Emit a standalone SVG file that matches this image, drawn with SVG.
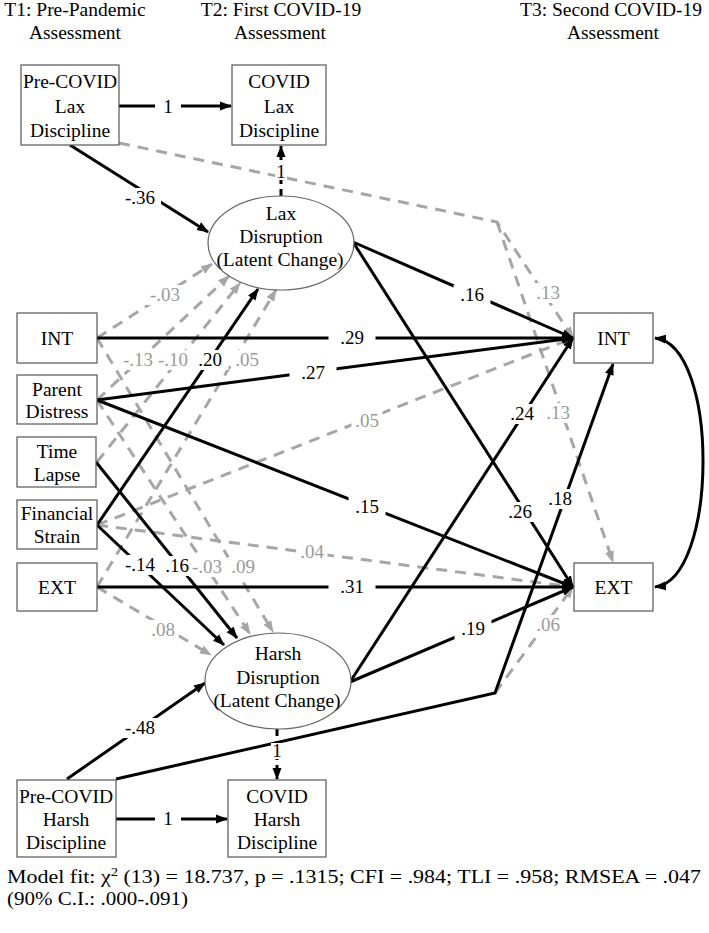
<svg xmlns="http://www.w3.org/2000/svg" width="709" height="933" viewBox="0 0 709 933">
<style>
text{font-family:"Liberation Serif","Times New Roman",serif;fill:#000}
.hd,.nt{font-size:19.5px;text-anchor:middle}
.lb{font-size:19px;text-anchor:middle}
.gl{fill:#9a9a9a}
.box{fill:#fff;stroke:#555;stroke-width:1.2}
.ell{fill:#fff;stroke:#666;stroke-width:1.2}
.b{fill:none;stroke:#000;stroke-width:3}
.bd{fill:none;stroke:#000;stroke-width:3;stroke-dasharray:7 5}
.g{fill:none;stroke:#a6a6a6;stroke-width:3;stroke-dasharray:11 8}
.bg{fill:#fff}
</style>
<defs>
<marker id="ab" viewBox="0 0 12 10" refX="11" refY="5" markerWidth="12" markerHeight="10" markerUnits="userSpaceOnUse" orient="auto-start-reverse"><path d="M0,0.5 L12,5 L0,9.5 z" fill="#000"/></marker>
<marker id="ag" viewBox="0 0 12 10" refX="11" refY="5" markerWidth="12" markerHeight="10" markerUnits="userSpaceOnUse" orient="auto"><path d="M0,0.5 L12,5 L0,9.5 z" fill="#a6a6a6"/></marker>
</defs>
<rect width="709" height="933" fill="#fff"/>
<g id="headers">
<text class="hd" x="75" y="16">T1: Pre-Pandemic</text>
<text class="hd" x="75" y="39">Assessment</text>
<text class="hd" x="281" y="16">T2: First COVID-19</text>
<text class="hd" x="280" y="39">Assessment</text>
<text class="hd" x="611" y="16">T3: Second COVID-19</text>
<text class="hd" x="613" y="39">Assessment</text>
</g>
<g id="connectors">
<g class="gray">
<path class="g" d="M119,143 L497,222 L573,338" marker-end="url(#ag)"/>
<path class="g" d="M497,222 L613,562" marker-end="url(#ag)"/>
<path class="g" d="M97,338 L212,264" marker-end="url(#ag)"/>
<path class="g" d="M97,400 L229,276" marker-end="url(#ag)"/>
<path class="g" d="M97,462 L240,283" marker-end="url(#ag)"/>
<path class="g" d="M97,587 L276,290" marker-end="url(#ag)"/>
<path class="g" d="M97,338 L273,632" marker-end="url(#ag)"/>
<path class="g" d="M97,400 L250,634" marker-end="url(#ag)"/>
<path class="g" d="M97,587 L211,655" marker-end="url(#ag)"/>
<path class="g" d="M97,525 L573,338" marker-end="url(#ag)"/>
<path class="g" d="M97,525 L573,587" marker-end="url(#ag)"/>
<path class="g" d="M495,693 L573,587" marker-end="url(#ag)"/>
</g>
<g class="black">
<path class="b" d="M119,106 L231,106" marker-end="url(#ab)"/>
<path class="b" d="M70,145 L208,232" marker-end="url(#ab)"/>
<path class="b" d="M353,242 L573,338" marker-end="url(#ab)"/>
<path class="b" d="M353,242 L573,587" marker-end="url(#ab)"/>
<path class="b" d="M97,338 L573,338" marker-end="url(#ab)"/>
<path class="b" d="M97,400 L573,338" marker-end="url(#ab)"/>
<path class="b" d="M97,400 L573,587" marker-end="url(#ab)"/>
<path class="b" d="M97,587 L573,587" marker-end="url(#ab)"/>
<path class="b" d="M97,525 L258,289" marker-end="url(#ab)"/>
<path class="b" d="M97,525 L224,645" marker-end="url(#ab)"/>
<path class="b" d="M96,462 L237,638" marker-end="url(#ab)"/>
<path class="b" d="M67,779 L205,683" marker-end="url(#ab)"/>
<path class="b" d="M116,819 L227,819" marker-end="url(#ab)"/>
<path class="b" d="M116,779 L495,693 L613,364" marker-end="url(#ab)"/>
<path class="b" d="M350,682 L573,338" marker-end="url(#ab)"/>
<path class="b" d="M350,682 L573,587" marker-end="url(#ab)"/>
<path class="bd" d="M281,196 L281,146" marker-end="url(#ab)"/>
<path class="bd" d="M277,729 L277,779" marker-end="url(#ab)"/>
<path class="b" d="M655,338 C720,345 718,580 655,587" marker-start="url(#ab)" marker-end="url(#ab)"/>
</g>
<g class="labels">
<rect class="bg" x="155" y="97" width="26" height="20"/><text class="lb" x="168" y="113">1</text>
<rect class="bg" x="119" y="188" width="42" height="20"/><text class="lb" x="140" y="204">-.36</text>
<rect class="bg" x="275" y="164" width="12" height="16"/><text class="lb" x="281" y="178">1</text>
<rect class="bg" x="453.5" y="285" width="37" height="20"/><text class="lb" x="472" y="301">.16</text>
<rect class="bg" x="328.5" y="328" width="47" height="20"/><text class="lb" x="352" y="344">.29</text>
<rect class="bg" x="289.5" y="363" width="47" height="20"/><text class="lb" x="313" y="379">.27</text>
<rect class="bg" x="191.5" y="350" width="37" height="20"/><text class="lb" x="210" y="366">.20</text>
<rect class="bg" x="348.5" y="497" width="37" height="20"/><text class="lb" x="367" y="513">.15</text>
<rect class="bg" x="501.5" y="502" width="37" height="20"/><text class="lb" x="520" y="518">.26</text>
<rect class="bg" x="503.5" y="404" width="37" height="20"/><text class="lb" x="522" y="420">.24</text>
<rect class="bg" x="541.5" y="489" width="37" height="20"/><text class="lb" x="560" y="505">.18</text>
<rect class="bg" x="119" y="555" width="42" height="20"/><text class="lb" x="140" y="571">-.14</text>
<rect class="bg" x="158.5" y="556" width="37" height="20"/><text class="lb" x="177" y="572">.16</text>
<rect class="bg" x="328.5" y="577" width="47" height="20"/><text class="lb" x="352" y="593">.31</text>
<rect class="bg" x="454.5" y="619" width="37" height="20"/><text class="lb" x="473" y="635">.19</text>
<rect class="bg" x="119" y="718" width="42" height="20"/><text class="lb" x="140" y="734">-.48</text>
<rect class="bg" x="271" y="743" width="12" height="16"/><text class="lb" x="277" y="757">1</text>
<rect class="bg" x="155" y="809" width="26" height="20"/><text class="lb" x="168" y="825">1</text>
<rect class="bg" x="146.5" y="285" width="37" height="20"/><text class="lb gl" x="165" y="301">-.03</text>
<rect class="bg" x="119.5" y="350" width="35" height="20"/><text class="lb gl" x="138" y="366">-.13</text>
<rect class="bg" x="155.5" y="350" width="35" height="20"/><text class="lb gl" x="173" y="366">-.10</text>
<rect class="bg" x="231.5" y="350" width="31" height="20"/><text class="lb gl" x="247" y="366">.05</text>
<rect class="bg" x="532.5" y="283" width="31" height="20"/><text class="lb gl" x="548" y="299">.13</text>
<rect class="bg" x="351.5" y="411" width="31" height="20"/><text class="lb gl" x="367" y="427">.05</text>
<rect class="bg" x="542.5" y="403" width="31" height="20"/><text class="lb gl" x="558" y="419">.13</text>
<rect class="bg" x="296.5" y="542" width="31" height="20"/><text class="lb gl" x="312" y="558">.04</text>
<rect class="bg" x="189" y="557" width="36" height="20"/><text class="lb gl" x="207" y="573">-.03</text>
<rect class="bg" x="227.5" y="557" width="31" height="20"/><text class="lb gl" x="243" y="573">.09</text>
<rect class="bg" x="147.5" y="620" width="31" height="20"/><text class="lb gl" x="163" y="636">.08</text>
<rect class="bg" x="532.5" y="615" width="31" height="20"/><text class="lb gl" x="548" y="631">.06</text>
</g>
</g>
<g id="preLax"><rect class="box" x="21" y="65" width="98" height="80"/><text class="nt" x="70" y="88">Pre-COVID</text><text class="nt" x="70" y="113">Lax</text><text class="nt" x="70" y="137">Discipline</text></g>
<g id="covidLax"><rect class="box" x="232" y="65" width="94" height="80"/><text class="nt" x="279" y="88">COVID</text><text class="nt" x="279" y="113">Lax</text><text class="nt" x="279" y="137">Discipline</text></g>
<g id="laxDisruption"><ellipse class="ell" cx="281" cy="243" rx="73" ry="47"/><text class="nt" x="281" y="220">Lax</text><text class="nt" x="281" y="243">Disruption</text><text class="nt" x="280" y="266">(Latent Change)</text></g>
<g id="int1"><rect class="box" x="17" y="313" width="80" height="50"/><text class="nt" x="57" y="345">INT</text></g>
<g id="parentDistress"><rect class="box" x="17" y="375" width="80" height="49"/><text class="nt" x="57" y="396">Parent</text><text class="nt" x="57" y="418">Distress</text></g>
<g id="timeLapse"><rect class="box" x="17" y="437" width="79" height="50"/><text class="nt" x="57" y="458">Time</text><text class="nt" x="57" y="481">Lapse</text></g>
<g id="financialStrain"><rect class="box" x="17" y="500" width="80" height="49"/><text class="nt" x="57" y="520">Financial</text><text class="nt" x="57" y="543">Strain</text></g>
<g id="ext1"><rect class="box" x="17" y="563" width="80" height="48"/><text class="nt" x="57" y="594">EXT</text></g>
<g id="harshDisruption"><ellipse class="ell" cx="278" cy="681" rx="73" ry="48"/><text class="nt" x="278" y="660">Harsh</text><text class="nt" x="278" y="684">Disruption</text><text class="nt" x="277" y="707">(Latent Change)</text></g>
<g id="preHarsh"><rect class="box" x="17" y="780" width="99" height="77"/><text class="nt" x="66" y="803">Pre-COVID</text><text class="nt" x="66" y="826">Harsh</text><text class="nt" x="66" y="849">Discipline</text></g>
<g id="covidHarsh"><rect class="box" x="228" y="780" width="98" height="77"/><text class="nt" x="277" y="803">COVID</text><text class="nt" x="277" y="826">Harsh</text><text class="nt" x="277" y="849">Discipline</text></g>
<g id="int3"><rect class="box" x="574" y="313" width="79" height="50"/><text class="nt" x="613.5" y="345">INT</text></g>
<g id="ext3"><rect class="box" x="574" y="563" width="79" height="48"/><text class="nt" x="613.5" y="594">EXT</text></g>
<g id="fit">
<text x="7" y="883" font-size="19.5" textLength="694" lengthAdjust="spacingAndGlyphs">Model fit: χ<tspan font-size="13" dy="-7">2</tspan><tspan dy="7"> (13) = 18.737, p = .1315; CFI = .984; TLI = .958; RMSEA = .047</tspan></text>
<text x="7" y="905" font-size="19.5" textLength="181" lengthAdjust="spacingAndGlyphs">(90% C.I.: .000-.091)</text>
</g>
</svg>
